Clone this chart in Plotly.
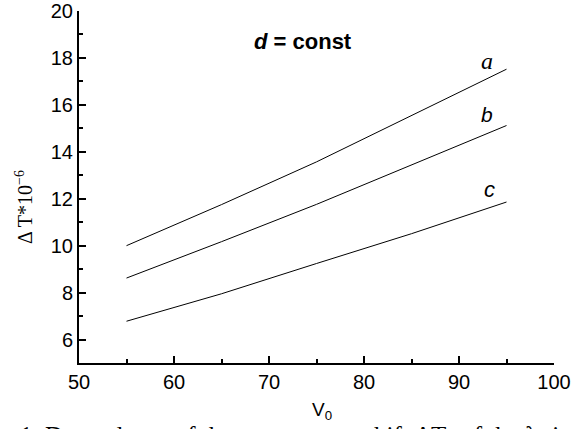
import plotly.graph_objects as go

# Data
v0 = [55, 65, 75, 85, 95]
curve_a = [10.00, 11.75, 13.57, 15.55, 17.52]
curve_b = [8.62, 10.17, 11.76, 13.44, 15.12]
curve_c = [6.78, 7.95, 9.24, 10.51, 11.86]

x_ticks = [50, 60, 70, 80, 90, 100]
y_ticks = [6, 8, 10, 12, 14, 16, 18, 20]

fig = go.Figure()
for name, ys in [("a", curve_a), ("b", curve_b), ("c", curve_c)]:
    fig.add_trace(go.Scatter(x=v0, y=ys, mode="lines", name=name,
                             line=dict(color="black", width=1), showlegend=False))

axis_common = dict(
    showgrid=False, zeroline=False, showline=True, linecolor="black", linewidth=2,
    ticks="inside", ticklen=7, tickwidth=1.5, tickcolor="black",
    tickfont=dict(family="Liberation Sans, Arial", size=20, color="black"),
    mirror=False, automargin=False,
)
fig.update_xaxes(range=[50, 100], tickvals=x_ticks, ticktext=[str(t) for t in x_ticks],
                 minor=dict(dtick=5, ticks="inside", ticklen=4, tickwidth=1.5, tickcolor="black"),
                 **axis_common)
fig.update_yaxes(range=[5, 20], tickvals=y_ticks, ticktext=[str(t) for t in y_ticks],
                 minor=dict(dtick=1, ticks="inside", ticklen=4, tickwidth=1.5, tickcolor="black"),
                 **axis_common)

# plot area on screen: x 79..554, y 11..363
def px(sx):
    return (sx - 79) / 475

def py(sy):
    return (363 - sy) / 352

ann = []
ann.append(dict(x=73.6, y=18.68, xref="x", yref="y", showarrow=False,
                text="<b><i>d</i> = const</b>",
                font=dict(family="Liberation Sans, Arial", size=22, color="black")))
ann.append(dict(x=92.95, y=17.85, xref="x", yref="y", showarrow=False, text="<i>a</i>",
                font=dict(family="Liberation Serif, Times New Roman", size=24, color="black")))
ann.append(dict(x=92.95, y=15.60, xref="x", yref="y", showarrow=False, text="<i>b</i>",
                font=dict(family="Liberation Sans, Arial", size=21, color="black")))
ann.append(dict(x=93.26, y=12.40, xref="x", yref="y", showarrow=False, text="<i>c</i>",
                font=dict(family="Liberation Sans, Arial", size=22, color="black")))
# axis titles
ann.append(dict(x=px(24), y=py(207), xref="paper", yref="paper",
                showarrow=False, textangle=-90, xanchor="center", yanchor="middle",
                text="Δ T*10<sup>−6</sup>",
                font=dict(family="Liberation Serif, Times New Roman", size=20, color="black")))
ann.append(dict(x=px(322), y=py(411), xref="paper", yref="paper",
                showarrow=False, xanchor="center", yanchor="middle",
                text="V<sub>0</sub>",
                font=dict(family="Liberation Sans, Arial", size=19, color="black")))
# cropped caption at the very bottom
ann.append(dict(x=px(18), y=py(420), xref="paper", yref="paper",
                showarrow=False, xanchor="left", yanchor="top",
                text="1. Dependence of the temperature shift ΔT<sub>0</sub> of the λ<sub>0</sub> i",
                font=dict(family="Liberation Serif, Times New Roman", size=25, color="black")))

fig.update_layout(
    width=572, height=429,
    margin=dict(l=79, r=18, t=11, b=66, autoexpand=False),
    paper_bgcolor="white", plot_bgcolor="white",
    annotations=ann,
)
fig.write_html("out.html", config={"displayModeBar": False},
               post_script="document.body.style.margin='0';")
